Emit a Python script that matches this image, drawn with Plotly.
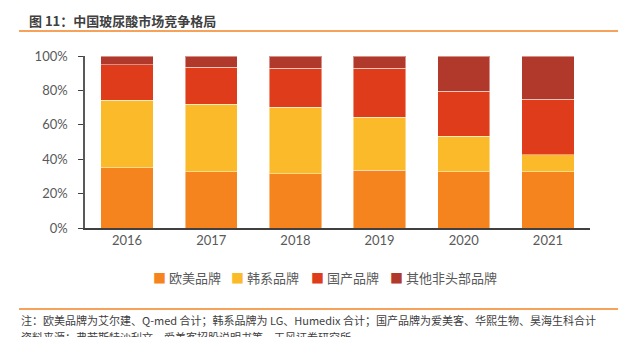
import plotly.graph_objects as go

years = ["2016", "2017", "2018", "2019", "2020", "2021"]
series_names = ["欧美品牌", "韩系品牌", "国产品牌", "其他非头部品牌"]
europe = [0.35, 0.326, 0.314, 0.337, 0.327, 0.327]
korea = [0.394, 0.394, 0.389, 0.308, 0.206, 0.099]
domestic = [0.204, 0.216, 0.227, 0.285, 0.262, 0.324]
others = [0.052, 0.064, 0.07, 0.07, 0.205, 0.25]
colors = ["#F5841F", "#FBBA2A", "#DE3C1B", "#B1392B"]
legend_x = [151, 229, 309, 388]

W, H = 620, 337
L, R, T, B = 85, 590, 56, 228


def px(x):
    return (x - L) / (R - L)


def py(y):
    return (B - y) / (B - T)


font_fam = "Lato, Noto Sans CJK SC"
fig = go.Figure()
for name, vals, c in zip(series_names, [europe, korea, domestic, others], colors):
    fig.add_trace(go.Bar(
        x=years, y=vals, name=name, showlegend=False,
        marker=dict(color=c, line=dict(color="rgba(255,255,255,0.45)", width=1)),
    ))

annotations = [
    dict(text="<b>图 11：中国玻尿酸市场竞争格局</b>", x=px(27), y=py(20), xref="paper", yref="paper",
         xanchor="left", yanchor="middle", showarrow=False,
         font=dict(size=13, color="#404040", family="Noto Sans CJK SC")),
    dict(text="注：欧美品牌为艾尔建、Q-med 合计；韩系品牌为 LG、Humedix 合计；国产品牌为爱美客、华熙生物、昊海生科合计",
         x=px(19), y=py(320), xref="paper", yref="paper", xanchor="left", yanchor="middle",
         showarrow=False, font=dict(size=11, color="#404040", family="Noto Sans CJK SC")),
    dict(text="资料来源：弗若斯特沙利文，爱美客招股说明书等，天风证券研究所",
         x=px(19), y=py(337), xref="paper", yref="paper", xanchor="left", yanchor="middle",
         showarrow=False, font=dict(size=11, color="#404040", family="Noto Sans CJK SC")),
]
for name, c, lx in zip(series_names, colors, legend_x):
    annotations.append(dict(
        text=f"<span style='color:{c}'>■</span> {name}", x=px(lx), y=py(277),
        xref="paper", yref="paper", xanchor="left", yanchor="middle", showarrow=False,
        font=dict(size=13, color="#595959", family="Noto Sans CJK SC")))

fig.update_layout(
    width=W, height=H,
    margin=dict(l=L, r=W - R, t=T, b=H - B, pad=0),
    barmode="stack", bargap=0.38,
    plot_bgcolor="white", paper_bgcolor="white",
    font=dict(family=font_fam, size=13, color="#595959"),
    showlegend=False,
    xaxis=dict(showline=True, linecolor="#404040", linewidth=1.5, ticks="",
               tickfont=dict(size=13, color="#595959"), showgrid=False),
    yaxis=dict(range=[0, 1], tickvals=[0, 0.2, 0.4, 0.6, 0.8, 1.0], tickformat=".0%",
               showline=True, linecolor="#595959", linewidth=1.5, ticks="outside",
               ticklen=5, tickcolor="#404040", showgrid=False, ticklabelstandoff=8,
               tickfont=dict(size=13, color="#595959")),
    annotations=annotations,
    shapes=[
        dict(type="line", xref="paper", yref="paper", x0=px(19), x1=px(618), y0=py(31), y1=py(31),
             line=dict(color="#F7A25A", width=2)),
        dict(type="line", xref="paper", yref="paper", x0=px(19), x1=px(618), y0=py(309), y1=py(309),
             line=dict(color="#F7A25A", width=2)),
    ],
)

fig.write_html("out.html")
